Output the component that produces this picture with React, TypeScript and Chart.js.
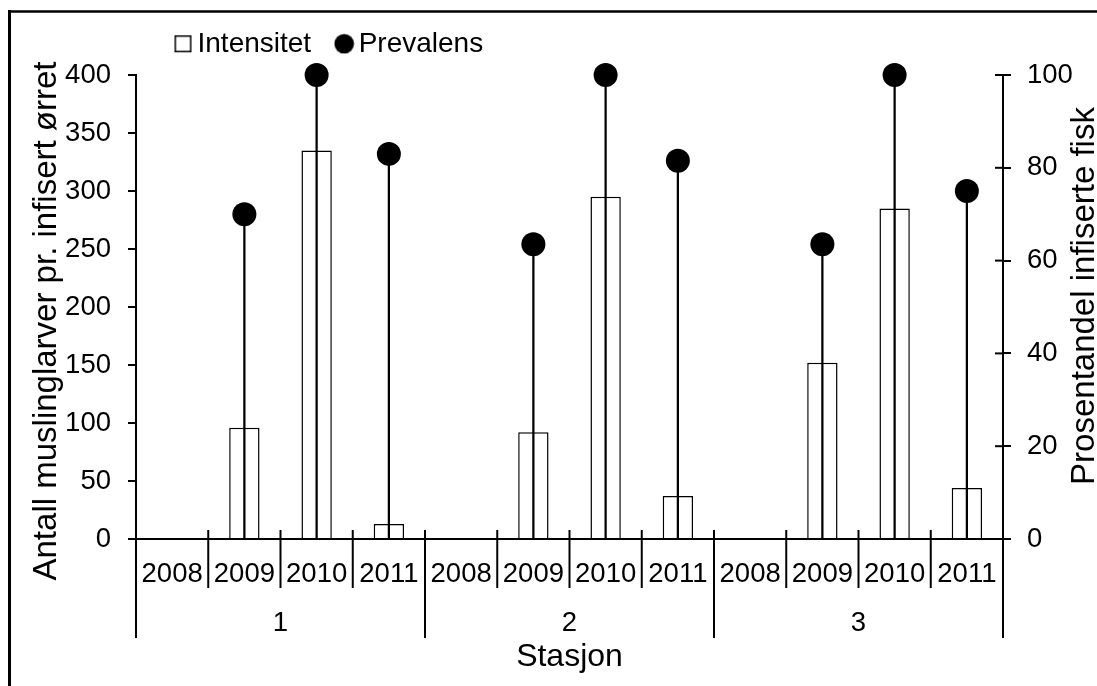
import React, { useEffect, useRef } from 'react';
import { Chart, registerables } from 'chart.js';

Chart.register(...registerables);

// ---- data ----
const yearLabels = ['2008', '2009', '2010', '2011', '2008', '2009', '2010', '2011', '2008', '2009', '2010', '2011'];
const stationLabels = ['1', '2', '3'];
const intensitet = [null, 96, 335, 13, null, 92, 295, 37, null, 152, 285, 44];
const prevalens = [null, 70, 100, 83, null, 63.5, 100, 81.5, null, 63.5, 100, 75];
const legendTexts = ['Intensitet', 'Prevalens'];
const leftTitle = 'Antall muslinglarver pr. infisert ørret';
const rightTitle = 'Prosentandel infiserte fisk';
const xTitle = 'Stasjon';

const FONT = '"Liberation Sans", Arial, Helvetica, sans-serif';
const W = 1097;
const H = 686;

function makeSquare() {
  const c = document.createElement('canvas');
  c.width = 19;
  c.height = 19;
  const g = c.getContext('2d')!;
  g.fillStyle = '#fff';
  g.fillRect(1, 1, 17, 17);
  g.strokeStyle = '#000';
  g.lineWidth = 1.5;
  g.strokeRect(1.75, 1.75, 15.5, 15.5);
  return c;
}

function makeCircle() {
  const c = document.createElement('canvas');
  c.width = 21;
  c.height = 21;
  const g = c.getContext('2d')!;
  g.fillStyle = '#000';
  g.beginPath();
  g.arc(10.5, 10.5, 9.8, 0, Math.PI * 2);
  g.fill();
  return c;
}

const LEG_FONT = 28;
const LEG_PAD = 32.5;

const decorPlugin = {
  id: 'decor',
  afterLayout(chart: any) {
    const lg = chart.legend;
    if (!lg) return;
    const w = lg.right - lg.left;
    const h = lg.bottom - lg.top;
    lg.left = 150;
    lg.right = 150 + w;
    lg.top = -2.7;
    lg.bottom = -2.7 + h;
  },
  afterDraw(chart: any) {
    const ctx = chart.ctx;
    const area = chart.chartArea;
    const xs = chart.scales.x;
    const y1 = chart.scales.y1;
    ctx.save();
    ctx.strokeStyle = '#000';
    ctx.lineCap = 'butt';
    // outer frame (left and top edges visible)
    ctx.lineWidth = 3;
    ctx.beginPath();
    ctx.moveTo(9.5, 10);
    ctx.lineTo(9.5, H);
    ctx.stroke();
    ctx.lineWidth = 2.5;
    ctx.beginPath();
    ctx.moveTo(8, 11.5);
    ctx.lineTo(W, 11.5);
    ctx.stroke();

    // category separators
    const half = (xs.getPixelForValue(1) - xs.getPixelForValue(0)) / 2;
    ctx.lineWidth = 2;
    for (let i = 0; i <= yearLabels.length; i++) {
      const px = i < yearLabels.length ? xs.getPixelForValue(i) - half : xs.getPixelForValue(i - 1) + half;
      const isGroup = i % 4 === 0;
      ctx.beginPath();
      ctx.moveTo(px, area.bottom - 9);
      ctx.lineTo(px, area.bottom + (isGroup ? 99 : 49));
      ctx.stroke();
    }
    // right axis inner ticks
    y1.ticks.forEach((t: any) => {
      const py = y1.getPixelForValue(t.value);
      ctx.beginPath();
      ctx.moveTo(area.right - 8, py);
      ctx.lineTo(area.right, py);
      ctx.stroke();
    });

    // axis titles (rotated)
    ctx.fillStyle = '#000';
    ctx.textAlign = 'center';
    ctx.textBaseline = 'middle';
    ctx.font = `33px ${FONT}`;
    ctx.save();
    ctx.translate(47, 321);
    ctx.rotate(-Math.PI / 2);
    ctx.fillText(leftTitle, 0, 0);
    ctx.restore();
    ctx.save();
    ctx.translate(1085, 296);
    ctx.rotate(-Math.PI / 2);
    ctx.fillText(rightTitle, 0, 0);
    ctx.restore();
    ctx.restore();
  },
};

export default function App() {
  const ref = useRef<HTMLCanvasElement | null>(null);

  useEffect(() => {
    if (!ref.current) return;
    const sq = makeSquare();
    const ci = makeCircle();
    const tickFont = { family: FONT, size: 27.5 };
    const chart = new Chart(ref.current, {
      type: 'bar',
      data: {
        labels: yearLabels,
        datasets: [
          {
            type: 'line',
            label: legendTexts[1],
            data: prevalens,
            yAxisID: 'y1',
            xAxisID: 'x',
            showLine: false,
            clip: false,
            pointRadius: 12,
            pointHoverRadius: 12,
            pointBackgroundColor: '#000',
            pointBorderColor: '#000',
            pointBorderWidth: 0,
            order: 0,
          } as any,
          {
            type: 'bar',
            label: 'drop',
            data: prevalens.map((v) => (v == null ? null : [0, v])),
            yAxisID: 'y1',
            xAxisID: 'x',
            backgroundColor: '#000',
            borderWidth: 0,
            barThickness: 1.6,
            grouped: false,
            order: 1,
          } as any,
          {
            type: 'bar',
            label: legendTexts[0],
            data: intensitet,
            yAxisID: 'y',
            xAxisID: 'x',
            backgroundColor: '#fff',
            borderColor: '#000',
            borderWidth: 1.5,
            barPercentage: 0.42,
            categoryPercentage: 1,
            grouped: false,
            order: 2,
          } as any,
        ],
      },
      options: {
        responsive: false,
        animation: false,
        devicePixelRatio: 1,
        layout: { padding: { top: 4.5, left: 0, right: 0, bottom: 0 } },
        plugins: {
          tooltip: { enabled: false },
          legend: {
            display: true,
            position: 'top',
            align: 'start',
            labels: {
              usePointStyle: true,
              pointStyleWidth: 1,
              padding: LEG_PAD,
              color: '#000',
              font: { family: FONT, size: LEG_FONT },
              generateLabels: () => [
                { text: legendTexts[0], pointStyle: sq, fillStyle: '#fff', strokeStyle: '#000', lineWidth: 0, hidden: false, datasetIndex: 2, fontColor: '#000' },
                { text: legendTexts[1], pointStyle: ci, fillStyle: '#000', strokeStyle: '#000', lineWidth: 0, hidden: false, datasetIndex: 0, fontColor: '#000' },
              ] as any,
            },
          },
        },
        scales: {
          x: {
            type: 'category',
            position: 'bottom',
            offset: true,
            grid: { display: false },
            border: { display: true, color: '#000', width: 2 },
            ticks: { color: '#000', font: tickFont, padding: 11, autoSkip: false, maxRotation: 0 },
            afterFit: (s: any) => { s.height = 50; },
          },
          x2: {
            type: 'category',
            position: 'bottom',
            labels: stationLabels,
            offset: true,
            grid: { display: false },
            border: { display: false },
            ticks: { color: '#000', font: tickFont, padding: 10, autoSkip: false, maxRotation: 0 },
            title: { display: true, text: xTitle, color: '#000', font: { family: FONT, size: 32 }, padding: { top: 0, bottom: 10 } },
            afterFit: (s: any) => { s.height = 97; },
          },
          y: {
            type: 'linear',
            position: 'left',
            min: 0,
            max: 400,
            ticks: { stepSize: 50, color: '#000', font: tickFont, padding: 17 },
            grid: { display: true, drawOnChartArea: false, drawTicks: true, tickLength: 8, color: '#000', lineWidth: 2 },
            border: { display: true, color: '#000', width: 2 },
            afterFit: (s: any) => { s.width = 136; },
          },
          y1: {
            type: 'linear',
            position: 'right',
            min: 0,
            max: 100,
            ticks: { stepSize: 20, color: '#000', font: tickFont, padding: 16 },
            grid: { display: true, drawOnChartArea: false, drawTicks: true, tickLength: 8, color: '#000', lineWidth: 2 },
            border: { display: true, color: '#000', width: 2 },
            afterFit: (s: any) => { s.width = 94; },
          },
        },
      },
      plugins: [decorPlugin],
    });
    return () => chart.destroy();
  }, []);

  return (
    <div style={{ position: 'absolute', left: 0, top: 0, width: W, height: H, background: '#fff', overflow: 'hidden' }}>
      <canvas ref={ref} width={W} height={H} style={{ width: W, height: H, display: 'block' }} />
    </div>
  );
}
